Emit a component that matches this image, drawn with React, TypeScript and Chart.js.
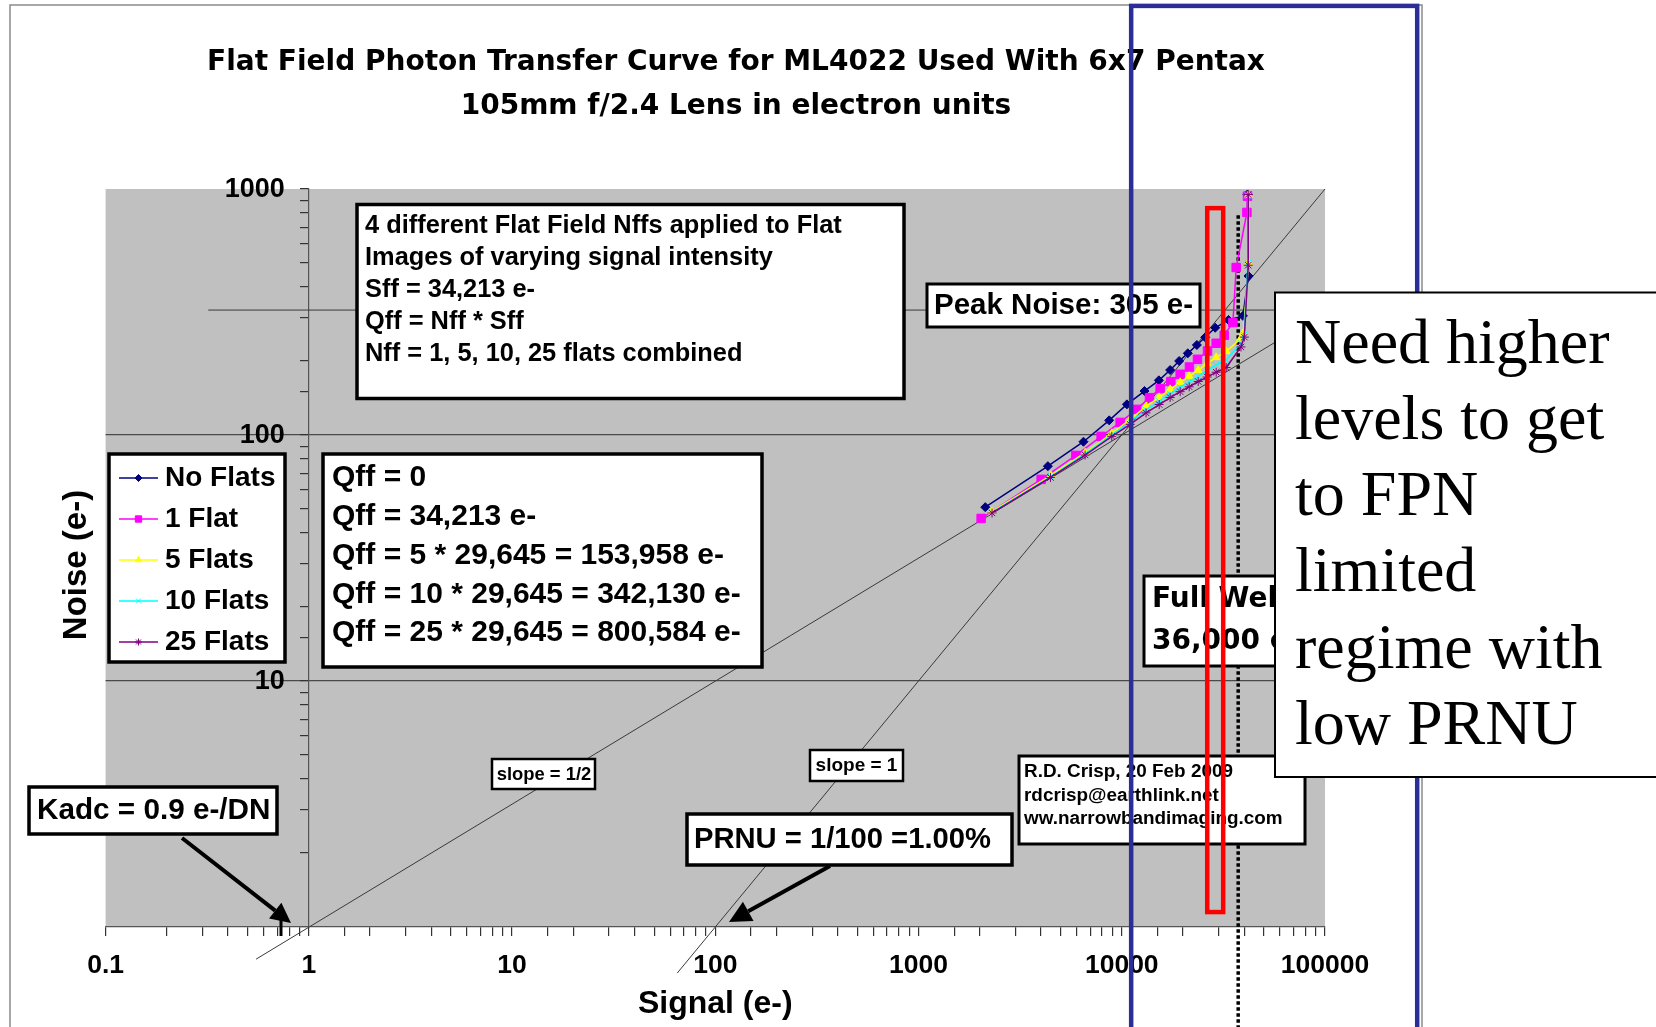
import React, { useEffect, useRef } from 'react';
import { Chart, registerables } from 'chart.js';
import { drawPoint } from 'chart.js/helpers';

Chart.register(...registerables);

const FONT = "'Liberation Sans', Arial, Helvetica, sans-serif";
const WIDE = "'DejaVu Sans', Verdana, sans-serif";
const SERIF = "'Liberation Serif', 'Times New Roman', Times, serif";

// ---------- text ----------
const TITLE_LINES = [
  'Flat Field Photon Transfer Curve for ML4022 Used With 6x7 Pentax',
  '105mm f/2.4 Lens in electron units',
];
const X_AXIS_TITLE = 'Signal (e-)';
const Y_AXIS_TITLE = 'Noise (e-)';
const X_TICK_LABELS = [0.1, 1, 10, 100, 1000, 10000, 100000];
const Y_TICK_LABELS = [10, 100, 1000];
const Y_GRID_VALUES = [10, 100];
const X_RANGE = [0.1, 100000];
const Y_RANGE = [1, 1000];

// ---------- series ----------
const SERIES_NAMES = ['No Flats', '1 Flat', '5 Flats', '10 Flats', '25 Flats'];

const SIGNAL_NO_FLATS = [2130, 4330, 6480, 8670, 10600, 12940, 15230, 17300, 19160, 21130, 23420, 25720, 28820, 33500, 39450, 42020, 41550];
const NOISE_NO_FLATS = [50.9, 74.7, 93.9, 114.7, 133.2, 150.9, 166.8, 183.7, 199.9, 214.8, 232.2, 249.5, 272.9, 293.6, 305, 443, 950];

const SIGNAL_1_FLAT = [2033, 4013, 5944, 7918, 9820, 11840, 13690, 15450, 17440, 19380, 21530, 23580, 26420, 29150, 31920, 35230, 36560, 41280, 41550];
const NOISE_1_FLAT = [45.8, 66.0, 82.6, 98.7, 112.5, 127.1, 141.8, 154.3, 164.8, 176.5, 188.9, 203.1, 219.5, 236.0, 254.3, 286.4, 479.6, 803, 935];

const SIGNAL_5_FLATS = [2294, 4478, 6607, 8940, 11000, 13180, 15280, 17300, 19380, 21470, 23770, 26330, 29150, 32640, 38250, 39720, 42020, 42020];
const NOISE_5_FLATS = [48.9, 68.5, 84.7, 101.5, 115.7, 130.7, 142.2, 153.3, 163.7, 173.2, 183.2, 195.6, 206.9, 218.9, 244.9, 260.8, 502, 944];

const SIGNAL_10_FLATS = [2290, 4470, 6600, 8940, 11000, 13180, 15280, 17300, 19380, 21470, 23770, 26330, 29150, 32640, 38500, 40000, 41800, 41800];
const NOISE_10_FLATS = [48.5, 67.8, 83.8, 100.2, 113.2, 126.5, 137.0, 147.0, 156.0, 164.5, 173.0, 183.0, 192.5, 202.0, 236, 255, 500, 940];

const SIGNAL_25_FLATS = [2300, 4460, 6600, 8930, 11000, 13170, 15280, 17300, 19380, 21470, 23770, 26330, 29150, 32640, 38600, 40100, 41900, 41900];
const NOISE_25_FLATS = [48.2, 67.2, 82.9, 98.8, 110.5, 123.0, 133.0, 142.0, 150.0, 157.0, 165.0, 172.0, 180.0, 188.0, 228, 250, 490, 950];

const SERIES_SIGNAL = [SIGNAL_NO_FLATS, SIGNAL_1_FLAT, SIGNAL_5_FLATS, SIGNAL_10_FLATS, SIGNAL_25_FLATS];
const SERIES_NOISE = [NOISE_NO_FLATS, NOISE_1_FLAT, NOISE_5_FLATS, NOISE_10_FLATS, NOISE_25_FLATS];

// series styles
const SERIES_COLORS = ['#000080', '#FF00FF', '#FFFF00', '#00FFFF', '#800080'];
const SERIES_POINT_STYLES = ['rectRot', 'rect', 'triangle', 'crossRot', 'star'];
const SERIES_POINT_RADII = [4.5, 6, 4.5, 4.5, 4.5];

// ---------- reference lines / annotations (data units) ----------
const SLOPE_HALF_X = [0.55, 100000];
const SLOPE_HALF_Y = [0.74, 316];
const SLOPE_ONE_X = [65, 100000];
const SLOPE_ONE_Y = [0.65, 1000];
const PEAK_NOISE_X = [0.32, 100000];
const PEAK_NOISE_Y = [322, 322];
const FULL_WELL_X = 37400;
const FULL_WELL_Y = [783, 0.37];
const HIGHLIGHT_X = [26330, 31550];
const HIGHLIGHT_Y = [836, 1.15];
const REGION_X = [11124, 284200];
const REGION_Y = [5550, 0.3];

const INFO_LINES = [
  '4 different Flat Field Nffs applied to Flat',
  'Images of varying signal intensity',
  'Sff = 34,213 e-',
  'Qff = Nff * Sff',
  'Nff = 1, 5, 10, 25 flats combined',
];
const QFF_LINES = [
  'Qff = 0',
  'Qff = 34,213 e-',
  'Qff = 5 * 29,645 = 153,958 e-',
  'Qff = 10 * 29,645 = 342,130 e-',
  'Qff = 25 * 29,645 = 800,584 e-',
];
const PEAK_LABEL = 'Peak Noise: 305 e-';
const KADC_LABEL = 'Kadc = 0.9 e-/DN';
const PRNU_LABEL = 'PRNU = 1/100 =1.00%';
const SLOPE_HALF_LABEL = 'slope = 1/2';
const SLOPE_ONE_LABEL = 'slope = 1';
const CREDIT_LINES = ['R.D. Crisp, 20 Feb 2009', 'rdcrisp@earthlink.net', 'ww.narrowbandimaging.com'];
const FULL_WELL_LINES = ['Full Well', '36,000 e-'];
const NOTE_LINES = ['Need higher', 'levels to get', 'to FPN', 'limited', 'regime with', 'low PRNU'];

const isDecade = (v: number) => Math.abs(Math.log10(v) - Math.round(Math.log10(v))) < 1e-6;
const inList = (v: number, list: number[]) => list.some((t) => Math.abs(t - v) / t < 1e-6);

function strokeBox(ctx: CanvasRenderingContext2D, x: number, y: number, w: number, h: number, lw: number) {
  ctx.fillStyle = '#ffffff';
  ctx.fillRect(x, y, w, h);
  ctx.lineWidth = lw;
  ctx.strokeStyle = '#000000';
  ctx.setLineDash([]);
  ctx.strokeRect(x, y, w, h);
}

function drawLines(ctx: CanvasRenderingContext2D, lines: string[], x: number, y0: number, dy: number, font: string, align: CanvasTextAlign = 'left') {
  ctx.font = font;
  ctx.fillStyle = '#000000';
  ctx.textAlign = align;
  ctx.textBaseline = 'middle';
  lines.forEach((s, i) => ctx.fillText(s, x, y0 + i * dy));
}

function arrow(ctx: CanvasRenderingContext2D, x1: number, y1: number, x2: number, y2: number, lw: number, head: number) {
  const ang = Math.atan2(y2 - y1, x2 - x1);
  const bx = x2 - head * Math.cos(ang);
  const by = y2 - head * Math.sin(ang);
  ctx.strokeStyle = '#000';
  ctx.lineWidth = lw;
  ctx.setLineDash([]);
  ctx.beginPath();
  ctx.moveTo(x1, y1);
  ctx.lineTo(bx, by);
  ctx.stroke();
  ctx.beginPath();
  ctx.moveTo(x2, y2);
  ctx.lineTo(bx + head * 0.5 * Math.sin(ang), by - head * 0.5 * Math.cos(ang));
  ctx.lineTo(bx - head * 0.5 * Math.sin(ang), by + head * 0.5 * Math.cos(ang));
  ctx.closePath();
  ctx.fillStyle = '#000';
  ctx.fill();
}

const overlayPlugin = {
  id: 'overlay',
  beforeDraw(chart: any) {
    const { ctx, chartArea: a } = chart;
    ctx.save();
    ctx.fillStyle = '#ffffff';
    ctx.fillRect(0, 0, chart.width, chart.height);
    ctx.strokeStyle = '#8a8a8a';
    ctx.lineWidth = 1.5;
    ctx.strokeRect(10, 5, 1412, 1100);
    ctx.fillStyle = '#c0c0c0';
    ctx.fillRect(a.left, a.top, a.right - a.left, a.bottom - a.top);
    drawLines(ctx, TITLE_LINES, 736, 63, 43.5, `bold 28px ${WIDE}`, 'center');
    ctx.translate(77, 565);
    ctx.rotate(-Math.PI / 2);
    drawLines(ctx, [Y_AXIS_TITLE], 0, 0, 0, `bold 33px ${FONT}`, 'center');
    ctx.restore();
  },
  beforeDatasetsDraw(chart: any) {
    const { ctx } = chart;
    const xs = chart.scales.x;
    const ys = chart.scales.y;
    ctx.save();
    // y tick labels, placed left of the y axis (which sits at x = 1)
    const axisX = xs.getPixelForValue(1);
    Y_TICK_LABELS.forEach((v) => {
      drawLines(ctx, [String(v)], axisX - 24, ys.getPixelForValue(v) + 1, 0, `bold 27px ${FONT}`, 'right');
    });
    // full well dotted marker
    const fx = xs.getPixelForValue(FULL_WELL_X);
    ctx.strokeStyle = '#000';
    ctx.lineWidth = 3.5;
    ctx.setLineDash([3.5, 2.5]);
    ctx.beginPath();
    ctx.moveTo(fx, ys.getPixelForValue(FULL_WELL_Y[0]));
    ctx.lineTo(fx, ys.getPixelForValue(FULL_WELL_Y[1]));
    ctx.stroke();
    ctx.restore();
  },
  afterDraw(chart: any) {
    const { ctx } = chart;
    const xs = chart.scales.x;
    const ys = chart.scales.y;
    ctx.save();

    // info box
    strokeBox(ctx, 357, 204.5, 547, 194, 3.5);
    drawLines(ctx, INFO_LINES, 365, 226, 31.9, `bold 25.4px ${FONT}`);

    // peak noise
    strokeBox(ctx, 927, 284, 273, 43, 3);
    drawLines(ctx, [PEAK_LABEL], 934, 306, 0, `bold 29.5px ${FONT}`);

    // legend
    strokeBox(ctx, 109, 454, 176, 208, 3.5);
    SERIES_NAMES.forEach((name, i) => {
      const y = 478 + i * 41;
      ctx.strokeStyle = SERIES_COLORS[i];
      ctx.lineWidth = 1.5;
      ctx.setLineDash([]);
      ctx.beginPath();
      ctx.moveTo(119, y);
      ctx.lineTo(158, y);
      ctx.stroke();
      ctx.fillStyle = SERIES_COLORS[i];
      ctx.strokeStyle = SERIES_COLORS[i];
      ctx.lineWidth = 1;
      drawPoint(ctx, { pointStyle: SERIES_POINT_STYLES[i] as any, radius: i === 1 ? 4.5 : 3.5, rotation: 0, borderWidth: 1 } as any, 138.5, y);
      drawLines(ctx, [name], 165, y, 0, `bold 28px ${FONT}`);
    });

    // Qff box
    strokeBox(ctx, 323, 454, 439, 213, 3.5);
    drawLines(ctx, QFF_LINES, 332, 478, 38.8, `bold 30px ${FONT}`);

    // slope labels
    strokeBox(ctx, 492, 759, 103, 30, 2.5);
    drawLines(ctx, [SLOPE_HALF_LABEL], 544, 774.5, 0, `bold 18.4px ${FONT}`, 'center');
    strokeBox(ctx, 810, 750, 93, 31, 2.5);
    drawLines(ctx, [SLOPE_ONE_LABEL], 856.5, 765.5, 0, `bold 19px ${FONT}`, 'center');

    // Kadc
    strokeBox(ctx, 29, 787, 248, 47, 3.5);
    drawLines(ctx, [KADC_LABEL], 37, 811, 0, `bold 29.7px ${FONT}`);
    arrow(ctx, 182, 838, 291, 923, 4, 20);
    ctx.lineWidth = 3;
    ctx.beginPath();
    ctx.moveTo(281, 936);
    ctx.lineTo(281, 916);
    ctx.stroke();

    // PRNU
    strokeBox(ctx, 687, 814, 325, 51, 3.5);
    drawLines(ctx, [PRNU_LABEL], 694, 840, 0, `bold 29.2px ${FONT}`);
    arrow(ctx, 830, 866, 729, 922, 4, 22);

    // credit
    strokeBox(ctx, 1019, 756, 286, 88, 3);
    drawLines(ctx, CREDIT_LINES, 1024, 772, 23.5, `bold 18.9px ${FONT}`);

    // full well
    strokeBox(ctx, 1144, 576, 170, 90, 3);
    drawLines(ctx, FULL_WELL_LINES, 1152, 600, 42, `bold 28px ${WIDE}`);

    // red highlight
    const rx1 = xs.getPixelForValue(HIGHLIGHT_X[0]);
    const rx2 = xs.getPixelForValue(HIGHLIGHT_X[1]);
    const ry1 = ys.getPixelForValue(HIGHLIGHT_Y[0]);
    const ry2 = ys.getPixelForValue(HIGHLIGHT_Y[1]);
    ctx.strokeStyle = '#ff0000';
    ctx.lineWidth = 4.5;
    ctx.setLineDash([]);
    ctx.strokeRect(rx1, ry1, rx2 - rx1, ry2 - ry1);

    // blue region
    const bx1 = xs.getPixelForValue(REGION_X[0]);
    const bx2 = xs.getPixelForValue(REGION_X[1]);
    const by1 = ys.getPixelForValue(REGION_Y[0]);
    const by2 = ys.getPixelForValue(REGION_Y[1]);
    ctx.strokeStyle = '#2b2e96';
    ctx.lineWidth = 4.5;
    ctx.strokeRect(bx1, by1, bx2 - bx1, by2 - by1);

    // note
    ctx.fillStyle = '#ffffff';
    ctx.fillRect(1275, 292.5, 420, 484.5);
    ctx.strokeStyle = '#000';
    ctx.lineWidth = 2;
    ctx.strokeRect(1275, 292.5, 420, 484.5);
    drawLines(ctx, NOTE_LINES, 1295, 346, 76.2, `64px ${SERIF}`);

    ctx.restore();
  },
};

export default function App() {
  const ref = useRef<HTMLCanvasElement>(null);
  useEffect(() => {
    document.body.style.margin = '0';
    const pts = (xsArr: number[], ysArr: number[]) => xsArr.map((x, j) => ({ x, y: ysArr[j] }));
    const refLine = (label: string, xa: number[], ya: number[]) => ({
      label,
      data: pts(xa, ya),
      showLine: true,
      borderColor: '#3a3a3a',
      borderWidth: 1,
      pointRadius: 0,
      clip: false,
      order: 20,
    });
    const datasets: any[] = SERIES_NAMES.map((name, i) => ({
      label: name,
      data: pts(SERIES_SIGNAL[i], SERIES_NOISE[i]),
      showLine: true,
      borderColor: SERIES_COLORS[i],
      backgroundColor: SERIES_COLORS[i],
      borderWidth: 1.5,
      pointStyle: SERIES_POINT_STYLES[i],
      pointRadius: SERIES_POINT_RADII[i],
      pointBorderWidth: 1,
      pointBorderColor: SERIES_COLORS[i],
      pointBackgroundColor: SERIES_COLORS[i],
      order: 4 - i,
      clip: false,
    }));
    datasets.push(refLine('slope 1/2', SLOPE_HALF_X, SLOPE_HALF_Y));
    datasets.push(refLine('slope 1', SLOPE_ONE_X, SLOPE_ONE_Y));
    datasets.push(refLine('peak noise', PEAK_NOISE_X, PEAK_NOISE_Y));

    Chart.defaults.font.family = FONT;
    const chart = new Chart(ref.current as HTMLCanvasElement, {
      type: 'scatter',
      data: { datasets },
      options: {
        animation: false,
        responsive: false,
        devicePixelRatio: 1,
        events: [],
        layout: { padding: { top: 189, left: 105.6, right: 331, bottom: 0 } },
        plugins: {
          legend: { display: false },
          tooltip: { enabled: false },
          title: { display: false },
        },
        scales: {
          x: {
            type: 'logarithmic',
            position: 'bottom',
            min: X_RANGE[0],
            max: X_RANGE[1],
            afterFit: (s: any) => {
              s.height = 100;
            },
            grid: { drawOnChartArea: false, drawTicks: true, tickLength: 9, tickColor: '#333', lineWidth: 1.2 },
            border: { color: '#555', width: 1.2 },
            ticks: {
              autoSkip: false,
              maxRotation: 0,
              padding: 14,
              color: '#000',
              font: { size: 26.5, weight: 'bold', family: FONT },
              callback: (v: any) => (isDecade(Number(v)) && inList(Number(v), X_TICK_LABELS) ? String(Number(v)) : ''),
            },
            title: {
              display: true,
              text: X_AXIS_TITLE,
              color: '#000',
              font: { size: 32, weight: 'bold', family: FONT, lineHeight: 1.2 },
              padding: { top: 0, bottom: 4 },
            },
          },
          y: {
            type: 'logarithmic',
            axis: 'y',
            position: { x: 1 },
            min: Y_RANGE[0],
            max: Y_RANGE[1],
            grid: {
              color: (c: any) => (c.tick && inList(c.tick.value, Y_GRID_VALUES) ? '#4a4a4a' : 'rgba(0,0,0,0)'),
              tickColor: '#333',
              tickLength: 8,
              lineWidth: 1.2,
            },
            border: { color: '#555', width: 1.2 },
            ticks: { display: false, autoSkip: false },
          },
        },
      } as any,
      plugins: [overlayPlugin],
    } as any);
    return () => chart.destroy();
  }, []);
  return (
    <div style={{ width: 1656, height: 1027, overflow: 'hidden' }}>
      <canvas ref={ref} width={1656} height={1027} style={{ display: 'block', width: 1656, height: 1027 }} />
    </div>
  );
}
